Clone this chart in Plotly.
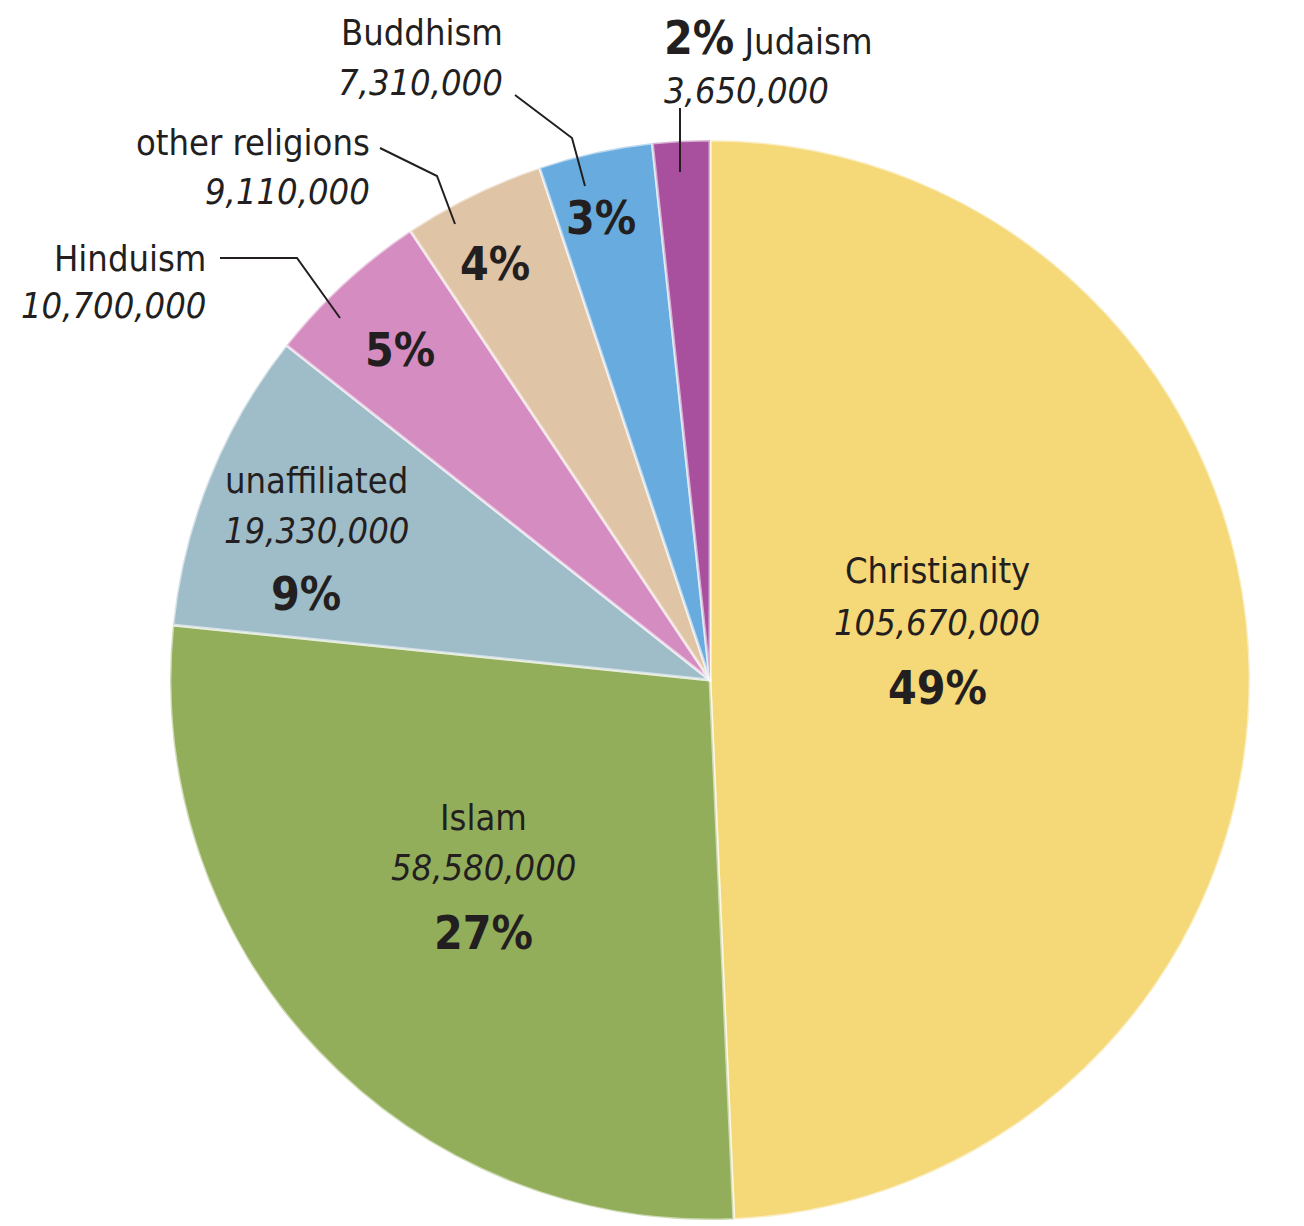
import plotly.graph_objects as go

W, H = 1304, 1226

religions = ["Christianity", "Islam", "unaffiliated", "Hinduism",
             "other religions", "Buddhism", "Judaism"]
followers = [105670000, 58580000, 19330000, 10700000, 9110000, 7310000, 3650000]
pct_labels = ["49%", "27%", "9%", "5%", "4%", "3%", "2%"]
colors = ["#F5D877", "#93AE5A", "#9FBCC9", "#D58CC0", "#E0C4A6", "#68ABDE", "#A8509E"]

FONT = "Liberation Sans Narrow, DejaVu Sans Condensed, Roboto, Arial Narrow, sans-serif"
TXT = "#231F20"


def px(x, y):
    return x / W, 1 - y / H


# pie center / radius in pixels
CX, CY, R = 710, 680, 540

fig = go.Figure(go.Pie(
    labels=religions,
    values=followers,
    sort=False,
    direction="clockwise",
    rotation=0,
    textinfo="none",
    hoverinfo="label+value+percent",
    marker=dict(colors=colors, line=dict(color="rgba(255,255,255,0.55)", width=3)),
    domain=dict(x=[(CX - R) / W, (CX + R) / W],
                y=[(H - CY - R) / H, (H - CY + R) / H]),
    showlegend=False,
))

annotations = []


def ann(x, y, text, size, anchor="center"):
    xp, yp = px(x, y)
    annotations.append(dict(x=xp, y=yp, xref="paper", yref="paper", text=text,
                            showarrow=False, xanchor=anchor, yanchor="middle",
                            font=dict(family=FONT, size=size, color=TXT)))


def fmt(v):
    return f"{v:,}"


# inside labels
ann(937, 570, religions[0], 36)
ann(937, 622, "<i>" + fmt(followers[0]) + "</i>", 36)
ann(937, 688, "<b>" + pct_labels[0] + "</b>", 46)

ann(483, 817, religions[1], 36)
ann(483, 867, "<i>" + fmt(followers[1]) + "</i>", 36)
ann(483, 933, "<b>" + pct_labels[1] + "</b>", 46)

ann(316, 480, religions[2], 36)
ann(316, 530, "<i>" + fmt(followers[2]) + "</i>", 36)
ann(306, 594, "<b>" + pct_labels[2] + "</b>", 46)

ann(400, 350, "<b>" + pct_labels[3] + "</b>", 46)
ann(495, 264, "<b>" + pct_labels[4] + "</b>", 46)
ann(601, 218, "<b>" + pct_labels[5] + "</b>", 46)

# outside labels
ann(208, 258, religions[3], 36, "right")
ann(208, 305, "<i>" + fmt(followers[3]) + "</i>", 36, "right")

ann(372, 142, religions[4], 36, "right")
ann(372, 192, "<i>" + fmt(followers[4]) + "</i>", 36, "right")

ann(505, 32, religions[5], 36, "right")
ann(505, 82, "<i>" + fmt(followers[5]) + "</i>", 36, "right")

ann(662, 38, "<b><span style='font-size:46px'>" + pct_labels[6] + "</span></b> " + religions[6], 36, "left")
ann(662, 90, "<i>" + fmt(followers[6]) + "</i>", 36, "left")


def path(points):
    s = ""
    for i, (x, y) in enumerate(points):
        xp, yp = px(x, y)
        s += ("M" if i == 0 else "L") + f" {xp} {yp} "
    return s


shapes = []
for pts in [
    [(220, 258), (297, 258), (340, 318)],
    [(380, 148), (437, 176), (455, 224)],
    [(515, 95), (572, 138), (585, 186)],
    [(680, 108), (680, 172)],
]:
    shapes.append(dict(type="path", path=path(pts), xref="paper", yref="paper",
                       line=dict(color=TXT, width=2)))

fig.update_layout(
    width=W, height=H,
    margin=dict(l=0, r=0, t=0, b=0),
    paper_bgcolor="white",
    plot_bgcolor="white",
    annotations=annotations,
    shapes=shapes,
)

fig.write_html("out.html")
